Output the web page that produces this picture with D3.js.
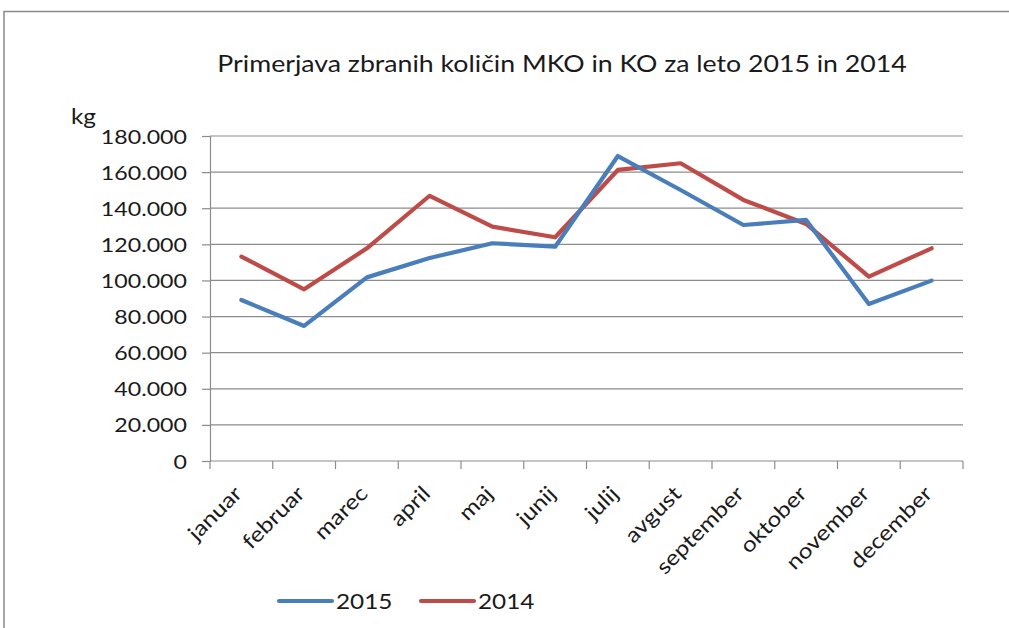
<!DOCTYPE html>
<html>
<head>
<meta charset="utf-8">
<script src="https://cdn.jsdelivr.net/npm/d3@7"></script>
<style>
  body { margin: 0; background: #fff; }
  text { font-family: Lato, "Open Sans", sans-serif; fill: #1a1a1a; }
</style>
</head>
<body>
<div id="chart"></div>
<script>
// data
const months = ["januar", "februar", "marec", "april", "maj", "junij",
    "julij", "avgust", "september", "oktober", "november", "december"];
const values2015 = [89200, 74800, 101700, 112400, 120600, 118700,
    168900, 150100, 130700, 133500, 87000, 99900];
const values2014 = [113200, 95100, 117800, 146900, 129800, 123900,
    161200, 164900, 144600, 131300, 102100, 117800];
const yTicks = [0, 20000, 40000, 60000, 80000, 100000, 120000, 140000, 160000, 180000];
const seriesNames = ["2015", "2014"];

const W = 1009, H = 628;
const margin = { top: 136, right: 46, bottom: 167, left: 210 },
    width = W - margin.left - margin.right,
    height = H - margin.top - margin.bottom;

// the original text is a bit wider than Lato, stretch it horizontally
const sx = 1.16;
const stretch = (tx, ty) => `translate(${tx},${ty}) scale(${sx},1)`;

const svg = d3.select("#chart")
    .append("svg")
    .attr("width", W)
    .attr("height", H);

// outer frame (cut off at right / bottom)
svg.append("path")
    .attr("d", `M4,${H} L4,11.5 L${W},11.5`)
    .attr("fill", "none")
    .attr("stroke", "#8a8a8a")
    .attr("stroke-width", 1.5);

svg.append("text")
    .attr("transform", stretch(562, 72))
    .attr("text-anchor", "middle")
    .style("font-size", "23px")
    .text("Primerjava zbranih količin MKO in KO za leto 2015 in 2014");

const g = svg.append("g")
    .attr("transform", `translate(${margin.left},${margin.top})`);

const x = d3.scaleBand()
    .domain(months)
    .range([0, width]);

const y = d3.scaleLinear()
    .domain([0, 180000])
    .range([height, 0]);

// gridlines
g.selectAll(".grid")
    .data(yTicks.filter(d => d > 0))
    .join("line")
    .attr("x1", 0)
    .attr("x2", width)
    .attr("y1", d => y(d))
    .attr("y2", d => y(d))
    .attr("stroke", "#8c8c8c")
    .attr("stroke-width", 1.2);

// Y axis
const fmt = d => d === 0 ? "0" : d3.format(",")(d).replace(/,/g, ".");
const yAxis = g.append("g")
    .call(d3.axisLeft(y).tickValues(yTicks).tickFormat(fmt).tickSize(8));
yAxis.select(".domain").attr("stroke", "#8c8c8c").attr("stroke-width", 1.2);
yAxis.selectAll(".tick line").attr("stroke", "#8c8c8c").attr("stroke-width", 1.2);
yAxis.selectAll(".tick text")
    .attr("x", null)
    .attr("dy", null)
    .attr("y", 7)
    .attr("transform", stretch(-23, 0))
    .style("font-size", "20px")
    .style("font-family", "Lato, sans-serif")
    .attr("fill", "#1a1a1a");

// X axis: ticks at band edges
const xAxis = g.append("g")
    .attr("transform", `translate(0,${height})`);
xAxis.append("line")
    .attr("x1", 0).attr("x2", width)
    .attr("stroke", "#8c8c8c").attr("stroke-width", 1.2);
const edges = months.map(m => x(m)).concat([width]);
xAxis.selectAll(".edge")
    .data(edges)
    .join("line")
    .attr("x1", d => d).attr("x2", d => d)
    .attr("y1", 0).attr("y2", 8)
    .attr("stroke", "#8c8c8c").attr("stroke-width", 1.2);
xAxis.selectAll(".lbl")
    .data(months)
    .join("g")
    .attr("transform", d => `translate(${x(d) + x.bandwidth() / 2 + 2},${34}) rotate(-45)`)
    .append("text")
    .attr("text-anchor", "end")
    .attr("transform", `scale(${sx},1)`)
    .style("font-size", "21px")
    .text(d => d);

svg.append("text")
    .attr("transform", stretch(71, 124))
    .style("font-size", "21px")
    .text("kg");

// lines
const color = d3.scaleOrdinal()
    .domain(seriesNames)
    .range(["#4a7ebb", "#be4b48"]);

const series = [
    { name: "2015", values: values2015 },
    { name: "2014", values: values2014 }
];

const line = d3.line()
    .x((d, i) => x(months[i]) + x.bandwidth() / 2)
    .y(d => y(d));

g.selectAll(".series")
    .data(series.slice().reverse())
    .join("path")
    .attr("fill", "none")
    .attr("stroke", d => color(d.name))
    .attr("stroke-width", 4.2)
    .attr("stroke-linejoin", "round")
    .attr("stroke-linecap", "round")
    .attr("d", d => line(d.values));

// legend
const legend = svg.append("g")
    .attr("transform", "translate(279,601)");
const item = legend.selectAll(".item")
    .data(seriesNames)
    .join("g")
    .attr("transform", (d, i) => `translate(${i * 142},0)`);
item.append("line")
    .attr("x1", 0).attr("x2", 53)
    .attr("stroke", d => color(d))
    .attr("stroke-width", 4.2)
    .attr("stroke-linecap", "round");
item.append("text")
    .attr("transform", stretch(57, 8))
    .style("font-size", "21px")
    .text(d => d);
</script>
</body>
</html>
